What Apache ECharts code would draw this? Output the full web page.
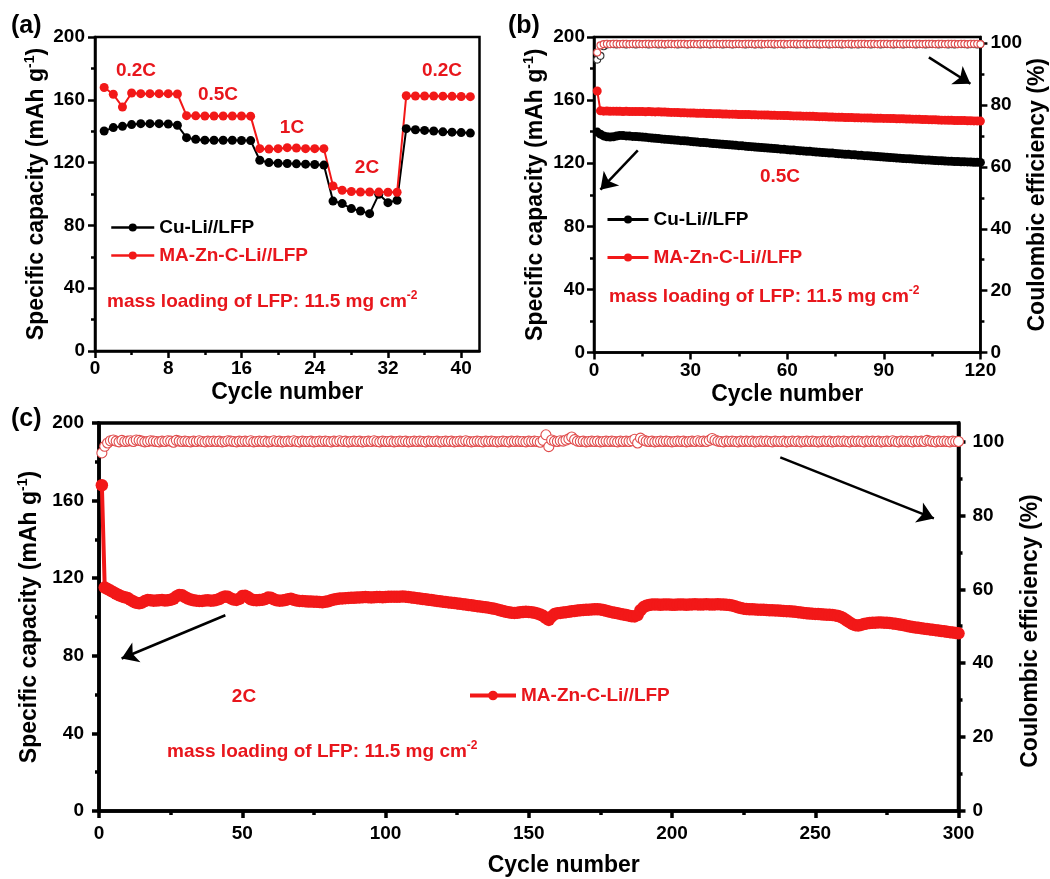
<!DOCTYPE html>
<html>
<head>
<meta charset="utf-8">
<script src="https://cdn.jsdelivr.net/npm/echarts@6/dist/echarts.min.js"></script>
<style>
  html, body { margin: 0; padding: 0; background: #ffffff; }
  #chart { width: 1050px; height: 879px; }
</style>
</head>
<body>
<div id="chart"></div>
<script>
// ---------------- data ----------------
// (a) rate capability, cycles 1-41
const cyclesA = [1,2,3,4,5,6,7,8,9,10,11,12,13,14,15,16,17,18,19,20,21,22,23,24,25,26,27,28,29,30,31,32,33,34,35,36,37,38,39,40,41];
const capA_Cu = [140.1,142.3,143.1,144.2,144.8,144.8,144.8,144.6,143.8,135.9,134.8,134.3,134.2,134.2,134.2,134.1,134.0,121.5,120.0,119.6,119.4,119.2,119.0,118.8,118.4,95.5,93.9,90.7,89.2,87.5,99.8,94.5,96.0,141.6,140.9,140.5,140.1,139.6,139.4,139.1,138.8];
const capA_MA = [167.8,163.5,155.4,164.3,163.9,163.9,163.9,163.9,163.7,149.9,149.8,149.7,149.7,149.7,149.7,149.7,149.6,128.9,128.6,128.9,129.5,129.3,128.9,128.9,128.9,105.1,102.4,101.6,101.3,101.3,101.2,101.1,101.1,162.6,162.4,162.4,162.4,162.3,162.2,162.1,162.0];

// (b) cycling at 0.5C, cycles 1-120 (index + 1 = cycle)
const capB_Cu = [
  139.7,138.4,137.3,136.8,136.6,136.7,137.2,137.6,137.5,137.3,
  137.2,137.0,136.9,136.7,136.6,136.4,136.2,136.0,135.8,135.6,
  135.4,135.2,135.1,134.9,134.7,134.5,134.3,134.2,134.0,133.8,
  133.6,133.4,133.2,133.1,132.9,132.7,132.5,132.4,132.2,132.0,
  131.8,131.7,131.5,131.3,131.1,131.0,130.8,130.6,130.5,130.3,
  130.1,129.9,129.8,129.6,129.4,129.3,129.1,128.9,128.8,128.6,
  128.4,128.3,128.1,127.9,127.8,127.6,127.5,127.3,127.1,127.0,
  126.8,126.7,126.5,126.4,126.2,126.0,125.9,125.7,125.6,125.4,
  125.3,125.1,125.0,124.8,124.7,124.5,124.4,124.2,124.1,123.9,
  123.8,123.6,123.5,123.3,123.2,123.0,122.9,122.8,122.6,122.5,
  122.4,122.2,122.1,122.0,121.9,121.7,121.6,121.5,121.4,121.3,
  121.2,121.1,121.0,120.9,120.9,120.8,120.7,120.6,120.6,120.5
];
const capB_MA = [
  165.8,153.2,153.0,153.1,152.9,153.0,152.9,152.9,152.8,152.9,
  152.8,152.8,152.7,152.8,152.7,152.6,152.7,152.6,152.5,152.6,
  152.4,152.4,152.3,152.2,152.2,152.1,152.0,152.0,151.9,151.8,
  151.8,151.7,151.7,151.6,151.5,151.5,151.4,151.4,151.3,151.2,
  151.2,151.1,151.1,151.0,150.9,150.9,150.8,150.8,150.7,150.7,
  150.6,150.6,150.5,150.5,150.4,150.4,150.3,150.3,150.2,150.2,
  150.1,150.0,150.0,149.9,149.8,149.8,149.7,149.7,149.6,149.5,
  149.5,149.4,149.3,149.3,149.2,149.1,149.1,149.0,148.9,148.9,
  148.8,148.8,148.7,148.7,148.6,148.6,148.5,148.5,148.5,148.4,
  148.4,148.3,148.3,148.2,148.2,148.1,148.0,148.0,147.9,147.9,
  147.8,147.7,147.7,147.6,147.5,147.5,147.4,147.3,147.3,147.2,
  147.2,147.1,147.1,147.0,147.0,146.9,146.9,146.8,146.8,146.7
];
const ceB_Cu = [
  94.7,95.9,99.0,99.6,99.7,99.7,99.6,99.7,99.7,99.6,
  99.7,99.7,99.6,99.7,99.7,99.7,99.6,99.7,99.7,99.6,
  99.7,99.6,99.7,99.7,99.7,99.6,99.7,99.7,99.6,99.7,
  99.7,99.7,99.6,99.7,99.7,99.6,99.7,99.7,99.7,99.6,
  99.7,99.7,99.6,99.7,99.7,99.7,99.6,99.7,99.7,99.6,
  99.7,99.6,99.7,99.7,99.7,99.6,99.7,99.7,99.6,99.7,
  99.7,99.7,99.6,99.7,99.7,99.6,99.7,99.7,99.7,99.6,
  99.7,99.7,99.6,99.7,99.7,99.7,99.6,99.7,99.7,99.6,
  99.7,99.6,99.7,99.7,99.7,99.6,99.7,99.7,99.6,99.7,
  99.7,99.7,99.6,99.7,99.7,99.6,99.7,99.7,99.7,99.6,
  99.7,99.7,99.6,99.7,99.7,99.7,99.6,99.7,99.7,99.6,
  99.7,99.6,99.7,99.7,99.7,99.6,99.7,99.7,99.6,99.7
];
const ceB_MA = [
  97.0,99.3,99.7,99.8,99.7,99.8,99.8,99.7,99.8,99.8,
  99.7,99.8,99.8,99.8,99.7,99.8,99.8,99.7,99.8,99.8,
  99.8,99.7,99.8,99.8,99.7,99.8,99.8,99.8,99.7,99.8,
  99.8,99.7,99.8,99.8,99.8,99.7,99.8,99.8,99.7,99.8,
  99.8,99.8,99.7,99.8,99.8,99.7,99.8,99.8,99.8,99.7,
  99.8,99.8,99.7,99.8,99.8,99.8,99.7,99.8,99.8,99.7,
  99.8,99.8,99.8,99.7,99.8,99.8,99.7,99.8,99.8,99.8,
  99.7,99.8,99.8,99.7,99.8,99.8,99.8,99.7,99.8,99.8,
  99.7,99.8,99.8,99.8,99.7,99.8,99.8,99.7,99.8,99.8,
  99.8,99.7,99.8,99.8,99.7,99.8,99.8,99.8,99.7,99.8,
  99.8,99.7,99.8,99.8,99.8,99.7,99.8,99.8,99.7,99.8,
  99.8,99.8,99.7,99.8,99.8,99.7,99.8,99.8,99.8,99.7
];

// (c) long cycling at 2C, cycles 1-300 (index + 1 = cycle)
const capC_MA = [
  167.9,115.2,114.4,113.6,112.8,112.0,111.2,110.6,110.2,109.8,
  108.8,108.0,107.3,107.1,107.4,108.2,108.7,108.6,108.4,108.5,
  108.6,108.7,108.5,108.6,108.9,109.4,110.6,111.4,111.2,110.3,
  109.5,109.0,108.6,108.4,108.3,108.3,108.5,108.6,108.4,108.5,
  108.8,109.3,110.1,110.6,110.4,109.6,109.0,108.8,109.4,110.8,
  111.0,110.2,109.1,108.7,108.6,108.7,108.9,109.3,110.0,109.9,
  109.1,108.6,108.4,108.5,108.7,109.2,109.4,108.9,108.5,108.3,
  108.2,108.1,108.0,108.0,107.9,107.8,107.7,107.6,107.8,108.1,
  108.6,109.0,109.3,109.5,109.6,109.7,109.8,109.9,109.9,110.0,
  110.1,110.2,110.3,110.2,110.1,110.2,110.3,110.3,110.2,110.3,
  110.4,110.5,110.5,110.4,110.5,110.6,110.5,110.3,110.1,109.9,
  109.7,109.5,109.3,109.1,108.9,108.7,108.5,108.3,108.1,107.9,
  107.7,107.5,107.4,107.2,107.0,106.8,106.6,106.4,106.2,106.0,
  105.8,105.6,105.4,105.2,105.0,104.8,104.5,104.2,103.9,103.5,
  103.1,102.7,102.4,102.2,102.1,102.2,102.4,102.6,102.7,102.6,
  102.4,102.2,101.8,101.3,100.6,99.4,98.5,100.2,101.5,101.9,
  102.1,102.3,102.5,102.7,102.9,103.1,103.3,103.5,103.6,103.7,
  103.8,103.9,104.0,104.0,103.9,103.6,103.2,102.8,102.5,102.2,
  101.9,101.6,101.3,101.0,100.7,100.4,100.3,101.0,103.5,105.0,
  105.8,106.2,106.4,106.5,106.4,106.3,106.4,106.5,106.4,106.3,
  106.3,106.4,106.5,106.4,106.3,106.4,106.5,106.6,106.5,106.4,
  106.5,106.6,106.5,106.4,106.5,106.6,106.5,106.4,106.3,106.2,
  105.9,105.5,105.0,104.6,104.3,104.1,104.0,104.0,103.9,103.8,
  103.8,103.7,103.6,103.5,103.5,103.4,103.3,103.2,103.1,103.0,
  102.9,102.8,102.7,102.5,102.3,102.1,101.9,101.8,101.7,101.6,
  101.5,101.4,101.3,101.2,101.1,101.0,100.8,100.5,100.0,99.2,
  98.2,97.2,96.3,95.8,95.6,95.9,96.4,96.7,96.9,97.0,
  97.1,97.2,97.2,97.1,97.0,96.9,96.7,96.5,96.2,96.0,
  95.7,95.4,95.1,94.8,94.6,94.4,94.2,94.0,93.8,93.6,
  93.4,93.2,93.0,92.8,92.6,92.4,92.2,92.0,91.8,91.6
];
const ceC_MA = [
  96.9,98.7,99.6,100.2,100.4,100.1,99.9,100.3,100.0,100.1,
  100.2,100.0,100.4,100.3,100.1,99.9,100.0,100.2,100.1,100.0,
  99.9,100.1,100.0,100.2,100.1,99.8,100.3,100.1,100.0,100.1,
  100.0,99.9,100.1,100.0,100.2,100.0,99.9,100.1,100.0,100.1,
  100.0,100.1,99.9,100.0,100.2,100.1,100.0,99.9,100.1,100.0,
  100.1,100.0,100.2,99.9,100.0,100.1,100.0,100.1,99.9,100.0,
  100.2,100.0,100.1,99.9,100.0,100.1,100.0,100.2,100.0,99.9,
  100.1,100.0,100.0,100.1,99.9,100.0,100.1,100.0,100.1,100.0,
  99.9,100.1,100.0,100.2,100.0,100.1,99.9,100.0,100.1,100.0,
  100.1,99.9,100.0,100.1,100.0,100.2,100.0,99.9,100.1,100.0,
  100.0,100.1,99.9,100.0,100.1,100.0,100.1,99.9,100.0,100.1,
  100.0,100.1,100.0,99.9,100.1,100.0,100.0,100.1,99.9,100.0,
  100.1,100.0,100.1,99.9,100.0,100.1,100.0,100.2,100.0,99.9,
  100.0,100.1,100.0,99.9,100.1,100.0,100.1,100.0,99.9,100.0,
  100.1,100.0,99.9,100.1,100.0,100.1,100.0,100.0,99.9,100.1,
  100.0,100.1,100.0,99.8,100.3,101.8,98.6,100.4,100.1,100.0,
  100.2,100.1,100.4,100.7,101.2,100.5,100.1,100.0,100.1,99.9,
  100.0,100.1,100.0,100.1,99.9,100.0,100.1,100.0,100.1,100.0,
  99.9,100.1,100.0,100.1,100.0,100.2,100.6,99.6,100.9,100.4,
  100.1,100.0,100.1,99.9,100.0,100.1,100.0,100.1,100.0,99.9,
  100.0,100.1,100.0,100.1,99.9,100.0,100.1,100.0,100.2,100.0,
  100.1,100.0,100.3,100.8,100.4,100.1,100.0,99.9,100.1,100.0,
  100.1,100.0,99.9,100.1,100.0,100.1,100.0,100.1,99.9,100.0,
  100.1,100.0,100.1,100.0,99.9,100.1,100.0,100.0,100.1,99.9,
  100.0,100.1,100.0,100.1,99.9,100.0,100.1,100.0,100.1,100.0,
  99.9,100.0,100.1,100.0,100.1,99.9,100.0,100.1,100.0,100.1,
  100.0,99.9,100.1,100.0,100.1,100.0,99.9,100.1,100.0,100.1,
  100.0,100.1,99.9,100.0,100.1,100.0,100.2,100.0,99.9,100.1,
  100.0,100.1,100.0,99.9,100.1,100.0,100.1,100.0,100.3,100.1,
  100.0,99.9,100.1,100.0,100.1,100.0,99.9,100.1,100.0,100.0
];

// axis tick values
const ticksA_x = [0, 8, 16, 24, 32, 40];
const minorA_x = [4, 12, 20, 28, 36];
const ticksB_x = [0, 30, 60, 90, 120];
const minorB_x = [15, 45, 75, 105];
const ticksC_x = [0, 50, 100, 150, 200, 250, 300];
const minorC_x = [25, 75, 125, 175, 225, 275];
const ticksCap = [0, 40, 80, 120, 160, 200];
const minorCap = [20, 60, 100, 140, 180];
const ticksCE = [0, 20, 40, 60, 80, 100];
const minorCE = [10, 30, 50, 70, 90];

// arrows pointing at the axis each curve belongs to: [start, end] in (cycle, capacity)
const arrowsB = [[[13.6, 128.1], [2.0, 103.2]], [[104.0, 187.1], [116.9, 170.4]]];
const arrowsC = [[[44.1, 100.9], [7.9, 78.6]], [[237.8, 182.3], [291.4, 150.8]]];

// ---------------- styling ----------------
const FONT = '"Liberation Sans", Arial, Helvetica, sans-serif';
const RED = '#f21818';
const TXT_RED = '#e8161c';
const CE_RED = '#e04c4c';
const BLACK = '#000000';

const chart = echarts.init(document.getElementById('chart'), null, { renderer: 'canvas' });

function axisPair(grid, pos, min, max, majors, minors, lw, margin, extra) {
  const main = Object.assign({
    type: 'value', gridIndex: grid, position: pos, min: min, max: max,
    axisLine: { show: true, onZero: false, lineStyle: { color: BLACK, width: lw } },
    axisTick: { show: true, inside: false, length: 7, customValues: majors, lineStyle: { color: BLACK, width: lw } },
    axisLabel: { show: true, customValues: majors, margin: margin, color: BLACK, fontSize: 19, fontWeight: 'bold', fontFamily: FONT },
    splitLine: { show: false }, minorTick: { show: false }, minorSplitLine: { show: false }
  }, extra || {});
  const minor = {
    type: 'value', gridIndex: grid, position: pos, min: min, max: max,
    axisLine: { show: false, onZero: false },
    axisTick: { show: true, inside: false, length: 4, customValues: minors, lineStyle: { color: BLACK, width: lw } },
    axisLabel: { show: false }, splitLine: { show: false }
  };
  return [main, minor];
}

function titleStyle() {
  return {
    color: BLACK, fontSize: 23, fontWeight: 'bold', fontFamily: FONT,
    rich: {
      t: { color: BLACK, fontSize: 23, fontWeight: 'bold', fontFamily: FONT, lineHeight: 28 },
      s: { color: BLACK, fontSize: 14, fontWeight: 'bold', fontFamily: FONT, verticalAlign: 'top', lineHeight: 18 }
    }
  };
}
const capName = '{t|Specific capacity (mAh g}{s|-1}{t|)}';
const ceName = '{t|Coulombic efficiency (%)}';

const xAxes = [].concat(
  axisPair(0, 'bottom', 0, 42, ticksA_x, minorA_x, 2.5, 8,
    { name: 'Cycle number', nameLocation: 'middle', nameGap: 30, nameTextStyle: titleStyle() }),
  axisPair(1, 'bottom', 0, 120, ticksB_x, minorB_x, 2.5, 9,
    { name: 'Cycle number', nameLocation: 'middle', nameGap: 31, nameTextStyle: titleStyle() }),
  axisPair(2, 'bottom', 0, 300, ticksC_x, minorC_x, 3.5, 13,
    { name: 'Cycle number', nameLocation: 'middle', nameGap: 43,
      nameTextStyle: Object.assign(titleStyle(), { padding: [0, 0, 0, 70] }) })
);

const yAxes = [].concat(
  axisPair(0, 'left', 0, 200, ticksCap, minorCap, 2.5, 10,
    { name: capName, nameLocation: 'middle', nameRotate: 90, nameGap: 44, nameTextStyle: titleStyle() }),
  axisPair(1, 'left', 0, 200, ticksCap, minorCap, 2.5, 9,
    { name: capName, nameLocation: 'middle', nameRotate: 90, nameGap: 44, nameTextStyle: titleStyle() }),
  axisPair(1, 'right', 0, 102, ticksCE, minorCE, 2.5, 10,
    { name: ceName, nameLocation: 'middle', nameRotate: 90, nameGap: 42, nameTextStyle: titleStyle() }),
  axisPair(2, 'left', 0, 200, ticksCap, minorCap, 3.5, 15,
    { name: capName, nameLocation: 'middle', nameRotate: 90, nameGap: 54, nameTextStyle: titleStyle() }),
  axisPair(2, 'right', 0, 105, ticksCE, minorCE, 3.5, 14,
    { name: ceName, nameLocation: 'middle', nameRotate: 90, nameGap: 58,
      nameTextStyle: Object.assign(titleStyle(), { padding: [0, 28, 0, 0] }) })
);
// yAxis indices: 0 a-left, 2 b-left, 4 b-right, 6 c-left, 8 c-right
// xAxis indices: 0 a, 2 b, 4 c

function byCycle(arr) { return arr.map((v, i) => [i + 1, v]); }

function arrowMarks(list) {
  return {
    silent: true, animation: false,
    symbol: ['none', 'arrow'], symbolSize: 16,
    lineStyle: { color: BLACK, width: 2.5, type: 'solid' },
    itemStyle: { color: BLACK },
    label: { show: false },
    emphasis: { disabled: true },
    data: list.map(a => [{ coord: a[0] }, { coord: a[1] }])
  };
}

function capLine(name, xi, yi, data, color, size, width) {
  return {
    name: name, type: 'line', xAxisIndex: xi, yAxisIndex: yi, data: data,
    symbol: 'circle', symbolSize: size, showSymbol: true,
    color: color, itemStyle: { color: color },
    lineStyle: { color: color, width: width },
    emphasis: { disabled: true }, animation: false, z: 3
  };
}

function ceScatter(name, xi, yi, data, stroke, size) {
  return {
    name: name, type: 'scatter', xAxisIndex: xi, yAxisIndex: yi, data: data,
    symbol: 'circle', symbolSize: size,
    itemStyle: { color: '#ffffff', borderColor: stroke, borderWidth: 1.1, opacity: 1 },
    emphasis: { disabled: true }, animation: false, z: 2
  };
}

const series = [
  // (a)
  capLine('Cu-Li//LFP', 0, 0, cyclesA.map((c, i) => [c, capA_Cu[i]]), BLACK, 9, 2),
  capLine('MA-Zn-C-Li//LFP', 0, 0, cyclesA.map((c, i) => [c, capA_MA[i]]), RED, 9, 2),
  // (b)
  ceScatter('CE Cu-Li//LFP 0.5C', 2, 4, byCycle(ceB_Cu), '#333333', 7),
  ceScatter('CE MA-Zn-C-Li//LFP 0.5C', 2, 4, byCycle(ceB_MA), CE_RED, 7),
  Object.assign(capLine('Cu-Li//LFP', 2, 2, byCycle(capB_Cu), BLACK, 9, 2), { markLine: arrowMarks(arrowsB) }),
  capLine('MA-Zn-C-Li//LFP', 2, 2, byCycle(capB_MA), RED, 9, 2),
  // (c)
  ceScatter('CE MA-Zn-C-Li//LFP 2C', 4, 8, byCycle(ceC_MA), CE_RED, 10),
  Object.assign(capLine('MA-Zn-C-Li//LFP', 4, 6, byCycle(capC_MA), RED, 12.5, 4), { markLine: arrowMarks(arrowsC) })
];

const legendText = { fontSize: 19, fontWeight: 'bold', fontFamily: FONT };
function legendAt(left, top, gap, width, height, items) {
  return {
    orient: 'vertical', left: left, top: top, padding: 0, itemGap: gap,
    itemWidth: width, itemHeight: height, selectedMode: false,
    textStyle: legendText,
    data: items
  };
}

function label(text, x, y, color, size, align) {
  return {
    type: 'text', x: x, y: y, silent: true,
    style: {
      text: text, fill: color, font: 'bold ' + size + 'px ' + FONT,
      align: align, verticalAlign: 'middle', textAlign: align, textVerticalAlign: 'middle'
    }
  };
}
function loadingLabel(x, y) {
  return {
    type: 'text', x: x, y: y, silent: true,
    style: {
      text: '{t|mass loading of LFP: 11.5 mg cm}{s|-2}',
      align: 'left', verticalAlign: 'middle',
      rich: {
        t: { fill: TXT_RED, fontSize: 19, fontWeight: 'bold', fontFamily: FONT, lineHeight: 24 },
        s: { fill: TXT_RED, fontSize: 12, fontWeight: 'bold', fontFamily: FONT, verticalAlign: 'top', lineHeight: 14 }
      }
    }
  };
}

const option = {
  backgroundColor: '#ffffff',
  animation: false,
  textStyle: { fontFamily: FONT },
  grid: [
    { left: 95, top: 37, width: 384.5, height: 314, show: true, borderColor: BLACK, borderWidth: 2.5, backgroundColor: 'transparent', containLabel: false },
    { left: 594, top: 37, width: 389, height: 315.5, show: true, borderColor: BLACK, borderWidth: 2.5, backgroundColor: 'transparent', containLabel: false },
    { left: 99, top: 423, width: 864, height: 388, show: true, borderColor: BLACK, borderWidth: 3.5, backgroundColor: 'transparent', containLabel: false }
  ],
  xAxis: xAxes,
  yAxis: yAxes,
  legend: [
    legendAt(110, 218, 9, 43, 10, [
      { name: 'Cu-Li//LFP', textStyle: { color: BLACK }, lineStyle: { width: 2.5 } },
      { name: 'MA-Zn-C-Li//LFP', textStyle: { color: TXT_RED }, lineStyle: { width: 2.5 } }
    ]),
    legendAt(606, 210, 19, 41, 10, [
      { name: 'Cu-Li//LFP', textStyle: { color: BLACK }, lineStyle: { width: 3 } },
      { name: 'MA-Zn-C-Li//LFP', textStyle: { color: TXT_RED }, lineStyle: { width: 3 } }
    ]),
    legendAt(468, 686, 0, 46, 12, [
      { name: 'MA-Zn-C-Li//LFP', textStyle: { color: TXT_RED }, lineStyle: { width: 4 } }
    ])
  ],
  series: series,
  graphic: [
    label('(a)', 11, 26, BLACK, 25, 'left'),
    label('(b)', 508, 26, BLACK, 25, 'left'),
    label('(c)', 11, 419, BLACK, 25, 'left'),
    label('0.2C', 136, 71, TXT_RED, 19, 'center'),
    label('0.5C', 218, 95, TXT_RED, 19, 'center'),
    label('1C', 292, 128, TXT_RED, 19, 'center'),
    label('2C', 367, 168, TXT_RED, 19, 'center'),
    label('0.2C', 442, 71, TXT_RED, 19, 'center'),
    label('0.5C', 780, 177, TXT_RED, 19, 'center'),
    label('2C', 244, 697, TXT_RED, 19, 'center'),
    loadingLabel(107, 302),
    loadingLabel(609, 297),
    loadingLabel(167, 752)
  ]
};

chart.setOption(option);
</script>
</body>
</html>
